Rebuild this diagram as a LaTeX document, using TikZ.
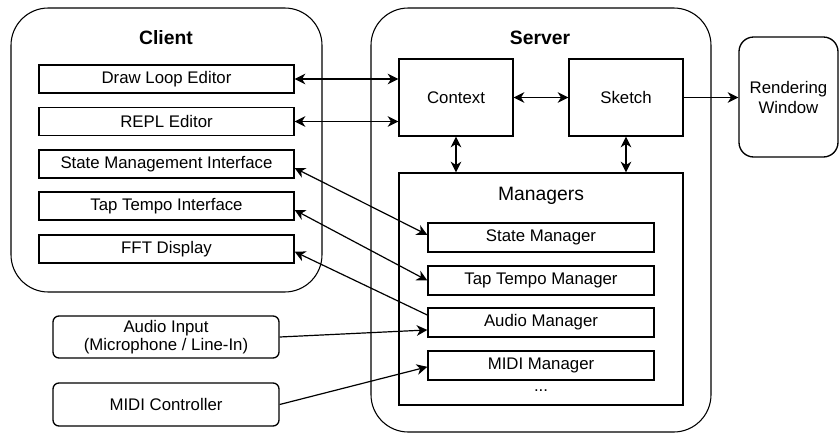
\documentclass[tikz,border=0pt]{standalone}
\usepackage{fontspec}
\setmainfont{Liberation Sans}
\usetikzlibrary{arrows.meta}
\newcommand{\px}{0.75pt}
\tikzset{
  part/.style={draw,line width=0.8pt,rounded corners=28pt,inner sep=0pt},
  box/.style={draw,line width=1pt,inner sep=0pt,minimum height=28*\px,
    font=\fontsize{12.6}{15}\selectfont},
  dev/.style={box,rounded corners=4.5pt,align=center,font=\fontsize{12.6}{13.8}\selectfont},
  title/.style={font=\fontsize{14.5}{17}\selectfont\bfseries}
}

\begin{document}
\begin{tikzpicture}[x=\px,y=-\px,>={Stealth[length=8pt,width=8pt,inset=2.5pt]},
    line width=0.9pt]
  \useasboundingbox (0,0) rectangle (839,433);

  % client side
  \node[part,minimum width=311*\px,minimum height=284*\px] (client) at (166.5,150) {};
  \node[title] (clientlbl) at (166,38) {Client};
  \node[box,minimum width=255*\px] (dle) at (166.5,79) {Draw Loop Editor};
  \node[box,minimum width=255*\px] (repl) at (166.5,121.5) {REPL Editor};
  \node[box,minimum width=255*\px] (smi) at (166.5,164) {State Management Interface};
  \node[box,minimum width=255*\px] (tti) at (166.5,206) {Tap Tempo Interface};
  \node[box,minimum width=255*\px] (fft) at (166.5,249) {FFT Display};

  \node[dev,minimum width=226*\px,minimum height=42*\px] (audio) at (166,337) {Audio Input\\(Microphone / Line-In)};
  \node[dev,minimum width=226*\px,minimum height=43*\px] (midi) at (166,404.5) {MIDI Controller};

  % server side
  \node[part,minimum width=340*\px,minimum height=424*\px] (server) at (541,220) {};
  \node[title] (serverlbl) at (540,38) {Server};
  \node[box,minimum width=114*\px,minimum height=77*\px] (ctx) at (456,97.5) {Context};
  \node[box,minimum width=114*\px,minimum height=77*\px] (sketch) at (626,97.5) {Sketch};
  \node[dev,minimum width=99*\px,minimum height=120*\px,rounded corners=11pt,
    font=\fontsize{12.6}{15}\selectfont] (render) at (788.5,97) {Rendering\\Window};

  \node[box,minimum width=284*\px,minimum height=232*\px] (mgr) at (541,289) {};
  \node[font=\fontsize{14.5}{17}\selectfont] (mgrlbl) at (541,196) {Managers};
  \node[box,minimum width=226*\px,minimum height=29*\px] (sm) at (541,237.5) {State Manager};
  \node[box,minimum width=226*\px,minimum height=29*\px] (tm) at (541,280.5) {Tap Tempo Manager};
  \node[box,minimum width=226*\px,minimum height=29*\px] (am) at (541,322.5) {Audio Manager};
  \node[box,minimum width=226*\px,minimum height=29*\px] (mm) at (541,365.5) {MIDI Manager};
  \node[font=\fontsize{12.6}{15}\selectfont] (more) at (541,391) {...};

  % connections
  \draw[<->] (dle.east) -- (dle.east -| ctx.west);
  \draw[<->] (repl.east) -- (repl.east -| ctx.west);
  \draw[<->] (ctx.east) -- (sketch.west);
  \draw[->] (sketch.east) -- (sketch.east -| render.west);
  \draw[<->] (ctx.south) -- (ctx.south |- mgr.north);
  \draw[<->] (sketch.south) -- (sketch.south |- mgr.north);
  \draw[<->] ([yshift=-3pt]smi.east) -- ([yshift=2pt]sm.west);
  \draw[<->] ([yshift=-3pt]tti.east) -- (tm.west);
  \draw[<-] ([yshift=-2pt]fft.east) -- ([yshift=5.6pt]am.west);
  \draw[->] (audio.east) -- ([yshift=-5.6pt]am.west);
  \draw[->] (midi.east) -- ([yshift=-1pt]mm.west);
\end{tikzpicture}
\end{document}
